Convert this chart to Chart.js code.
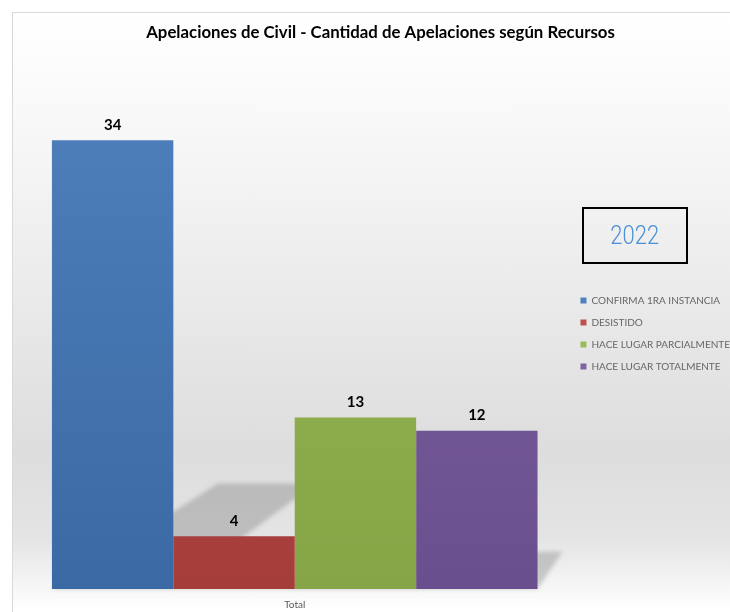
<!DOCTYPE html>
<html>
<head>
<meta charset="utf-8">
<script src="https://cdn.jsdelivr.net/npm/chart.js@4.4.1/dist/chart.umd.min.js"></script>
<style>
  html, body { margin: 0; padding: 0; background: #fff; overflow: hidden; width: 730px; height: 612px; }
  #marco {
    position: absolute; left: 12px; top: 12px; width: 735px; height: 610px;
    border-left: 1px solid #d9d9d9; border-top: 1px solid #d9d9d9;
    background: linear-gradient(to bottom, #ffffff 0%, #f8f8f8 18%, #ebebeb 45%, #dddddd 72%, #e4e4e4 86%, #ffffff 98%);
  }
  #grafico { position: absolute; left: 0; top: 0; }
  #anio {
    position: absolute; left: 569px; top: 194px; width: 102px; height: 53px;
    border: 2px solid #000; font-family: Roboto, sans-serif; font-weight: 300;
    font-size: 25px; color: #4a90d6; text-align: center; line-height: 53px;
  }
  #anio span { display: inline-block; transform: scaleX(0.88); }
</style>
</head>
<body>
<div id="marco">
  <canvas id="grafico" width="735" height="610"></canvas>
  <div id="anio"><span>2022</span></div>
</div>
<script>
// Datos del gráfico
var categorias = ['Total'];
var recursos = ['CONFIRMA 1RA INSTANCIA', 'DESISTIDO', 'HACE LUGAR PARCIALMENTE', 'HACE LUGAR TOTALMENTE'];
var cantidades = [34, 4, 13, 12];
var coloresArriba = ['#4f81bd', '#c0504d', '#9bbb59', '#8064a2'];
var coloresAbajo = ['#3b69a3', '#a53d3b', '#85a546', '#6a4f8e'];

// Degradado vertical de cada barra
function degradado(i) {
    return function (context) {
        var area = context.chart.chartArea;
        if (!area) return coloresArriba[i];
        var g = context.chart.ctx.createLinearGradient(0, area.top, 0, area.bottom);
        g.addColorStop(0, coloresArriba[i]);
        g.addColorStop(1, coloresAbajo[i]);
        return g;
    };
}

// Sombra en perspectiva detrás de las barras
var sombras = {
    id: 'sombras',
    beforeDatasetsDraw: function (chart) {
        var ctx = chart.ctx;
        var area = chart.chartArea;
        var vx = area.right + 330, vy = area.top - 10;
        ctx.save();
        ctx.filter = 'blur(2px)';
        ctx.fillStyle = 'rgba(90,90,90,0.28)';
        chart.data.datasets.forEach(function (ds, i) {
            var meta = chart.getDatasetMeta(i);
            meta.data.forEach(function (bar) {
                var x0 = bar.x - bar.width / 2, x1 = bar.x + bar.width / 2;
                var h = bar.base - bar.y;
                var sh = h * 0.235;
                var f = sh / (bar.base - vy);
                ctx.beginPath();
                ctx.moveTo(x0, bar.base);
                ctx.lineTo(x1, bar.base);
                ctx.lineTo(x1 + (vx - x1) * f, bar.base - sh);
                ctx.lineTo(x0 + (vx - x0) * f, bar.base - sh);
                ctx.closePath();
                ctx.fill();
            });
        });
        ctx.restore();
    }
};

// Etiquetas con el valor encima de cada barra
var etiquetas = {
    id: 'etiquetas',
    afterDatasetsDraw: function (chart) {
        var ctx = chart.ctx;
        ctx.save();
        ctx.font = 'bold 15px Lato, sans-serif';
        ctx.fillStyle = '#000';
        ctx.textAlign = 'center';
        ctx.textBaseline = 'middle';
        chart.data.datasets.forEach(function (ds, i) {
            chart.getDatasetMeta(i).data.forEach(function (bar, j) {
                ctx.fillText(ds.data[j], bar.x, bar.y - 15);
            });
        });
        ctx.restore();
    }
};

var ctx = document.getElementById('grafico').getContext('2d');
var grafico = new Chart(ctx, {
    type: 'bar',
    data: {
        labels: categorias,
        datasets: recursos.map(function (nombre, i) {
            return {
                label: nombre,
                data: [cantidades[i]],
                backgroundColor: degradado(i),
                borderWidth: 0,
                categoryPercentage: 0.887,
                barPercentage: 1
            };
        })
    },
    options: {
        responsive: false,
        animation: false,
        layout: { padding: { left: 8, right: 8, top: 0, bottom: 10 } },
        plugins: {
            title: {
                display: true,
                text: 'Apelaciones de Civil - Cantidad de Apelaciones según Recursos',
                color: '#000',
                font: { family: 'Lato', size: 16.8, weight: 'bold' },
                padding: { top: 10, bottom: 18 }
            },
            legend: {
                position: 'right',
                align: 'center',
                maxWidth: 180,
                title: { display: true, text: '', font: { size: 1 }, padding: { top: 20, bottom: 20 } },
                labels: {
                    boxWidth: 6,
                    boxHeight: 6,
                    padding: 12,
                    color: '#595959',
                    font: { family: 'Lato', size: 10 },
                    generateLabels: function (chart) {
                        return recursos.map(function (nombre, i) {
                            return { text: nombre, fillStyle: coloresArriba[i], strokeStyle: coloresArriba[i], lineWidth: 0, datasetIndex: i };
                        });
                    }
                }
            },
            tooltip: { enabled: false }
        },
        scales: {
            x: {
                grid: { display: false },
                border: { display: false },
                ticks: { color: '#595959', font: { family: 'Lato', size: 10 }, padding: 2 }
            },
            y: {
                display: false,
                min: 0,
                max: 40
            }
        }
    },
    plugins: [sombras, etiquetas]
});
</script>
</body>
</html>
